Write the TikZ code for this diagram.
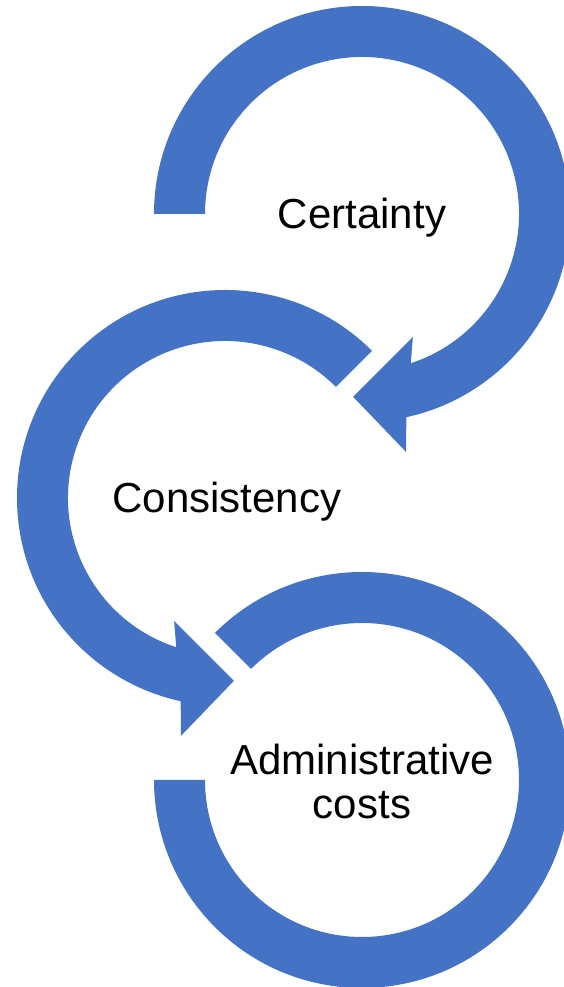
\documentclass[tikz,border=0pt]{standalone}
\usepackage{fontspec}
\setmainfont{Liberation Sans}
\definecolor{smartblue}{HTML}{4472C4}
\begin{document}
\begin{tikzpicture}[x=1pt,y=1pt,
  band/.style={fill=smartblue,draw=none},
  lbl/.style={inner sep=0pt,font=\fontsize{42}{44}\selectfont,align=center,text=black}]
\useasboundingbox (0,0) rectangle (564,987);
\coordinate (c1) at (362,773);
\coordinate (c2) at (225,489);
\coordinate (c3) at (362,207);
% arc 1 (top), clockwise with head at bottom
\begin{scope}[shift={(c1)}]
\fill[band] (180:208) arc[start angle=180,end angle=-77.7,radius=208]
  -- (-79.5:242) -- (-92.8:183) -- (-67.5:133) -- (-71.9:157)
  arc[start angle=-71.9,end angle=180,radius=157] -- cycle;
\end{scope}
% arc 2 (middle), counter-clockwise with head at bottom
\begin{scope}[shift={(c2)}]
\fill[band] (45:208) arc[start angle=45,end angle=257.7,radius=208]
  -- (259.5:242) -- (272.8:183) -- (247.5:133) -- (251.9:157)
  arc[start angle=251.9,end angle=45,radius=157] -- cycle;
\end{scope}
% arc 3 (bottom), no head
\begin{scope}[shift={(c3)}]
\fill[band] (135:208) arc[start angle=135,end angle=-180,radius=208]
  -- (-180:157) arc[start angle=-180,end angle=135,radius=157] -- cycle;
\end{scope}
\node[lbl,anchor=base] (t1) at (362,758) {Certainty};
\node[lbl,anchor=base] (t2) at (227,474.3) {Consistency};
\node[lbl,anchor=north] (t3) at (362,243.5) {Administrative\\costs};
\end{tikzpicture}
\end{document}
